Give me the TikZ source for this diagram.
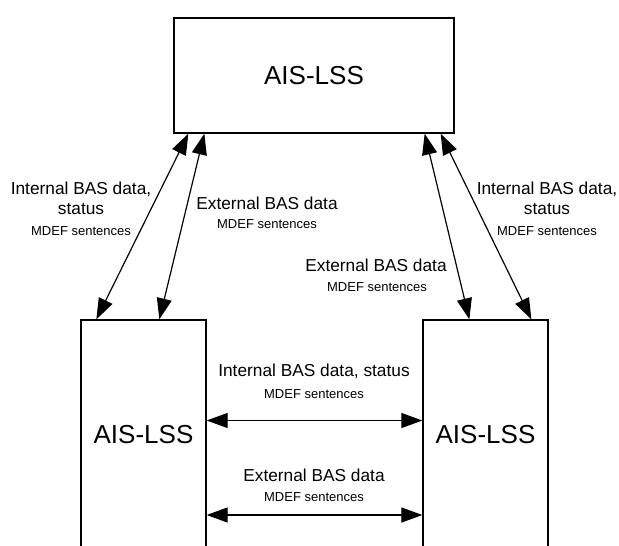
\documentclass[tikz,border=0pt]{standalone}
\usepackage{fontspec}
\setmainfont{Liberation Sans}
\usetikzlibrary{arrows.meta}
\tikzset{
  box/.style={draw, line width=1.3pt, inner sep=0pt, font=\fontsize{26}{30}\selectfont},
  conn/.style={line width=1.2pt, {Triangle[length=21pt,width=15pt]}-{Triangle[length=21pt,width=15pt]}},
  lbl/.style={align=center, inner sep=0pt, font=\fontsize{17.3}{20}\selectfont},
  sub/.style={inner sep=0pt, font=\fontsize{13}{15}\selectfont}
}
\begin{document}
\begin{tikzpicture}[x=1pt,y=-1pt]
\clip (0,0) rectangle (619,546);
\fill[white] (0,0) rectangle (619,546);
\node[box, minimum width=280pt, minimum height=115pt] (T) at (314,75.5) {AIS-LSS};
\node[box, minimum width=125pt, minimum height=250pt] (L) at (143.5,445) {};
\node[box, minimum width=125pt, minimum height=250pt] (R) at (485.5,445) {};
\node[font=\fontsize{26}{30}\selectfont, inner sep=0pt] (Lt) at (143.5,435) {AIS-LSS};
\node[font=\fontsize{26}{30}\selectfont, inner sep=0pt] (Rt) at (485.5,435) {AIS-LSS};
% slanted connectors
\draw[conn] ([xshift=16pt]L.north west) -- ([xshift=15pt]T.south west);
\draw[conn] ([xshift=79pt]L.north west) -- ([xshift=31pt]T.south west);
\draw[conn] ([xshift=47pt]R.north west) -- ([xshift=-30pt]T.south east);
\draw[conn] ([xshift=109pt]R.north west) -- ([xshift=-14pt]T.south east);
% horizontal connectors
\coordinate (h1) at (0,420.5);
\coordinate (h2) at (0,515);
\draw[conn] (L.east |- h1) -- (R.west |- h1);
\draw[conn] (L.east |- h2) -- (R.west |- h2);
% labels
\node[lbl] (a1) at (81,198) {Internal BAS data,\\status};
\node[sub] (a2) at (81,231) {MDEF sentences};
\node[lbl] (b1) at (267,203) {External BAS data};
\node[sub] (b2) at (267,224) {MDEF sentences};
\node[lbl] (c1) at (376,265) {External BAS data};
\node[sub] (c2) at (377,287) {MDEF sentences};
\node[lbl] (d1) at (547,198) {Internal BAS data,\\status};
\node[sub] (d2) at (547,231) {MDEF sentences};
\node[lbl] (e1) at (314,371) {Internal BAS data, status};
\node[sub] (e2) at (314,394) {MDEF sentences};
\node[lbl] (f1) at (314,475) {External BAS data};
\node[sub] (f2) at (314,497) {MDEF sentences};
\end{tikzpicture}
\end{document}
